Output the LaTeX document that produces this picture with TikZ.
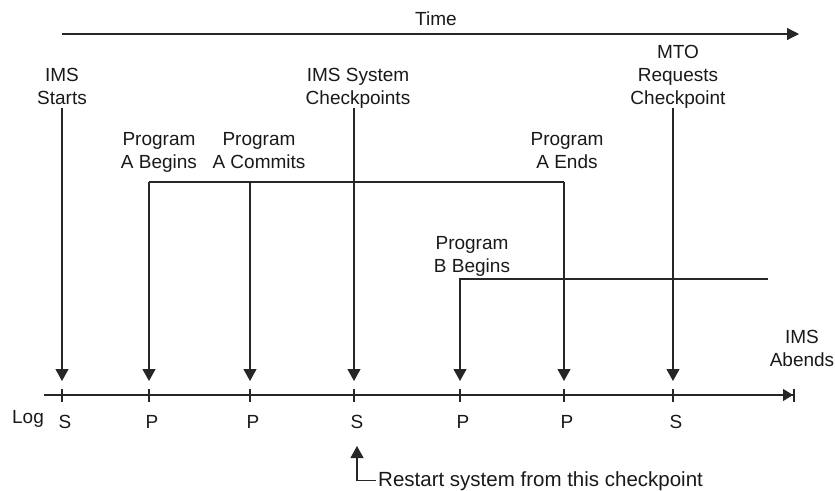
\documentclass[tikz,border=0pt]{standalone}
\usepackage{fontspec}
\setmainfont{Liberation Sans}
\usetikzlibrary{positioning,arrows.meta}

\begin{document}
\begin{tikzpicture}
[x=1pt, y=-1pt,
 lbl/.style={align=center, inner sep=0pt, text depth=3pt, text=black!90,
   font=\fontsize{19}{23}\selectfont},
 line/.style={line width=1.1pt, draw=black!85},
 evt/.style={line, -{Triangle[width=13pt,length=12pt]}}]
\useasboundingbox (0,0) rectangle (835,490);

% time axis
\coordinate (tstart) at (62,34);
\coordinate (tend) at (799,34);
\draw[line, -{Triangle[width=12pt,length=12pt]}] (tstart) -- (tend);
\node[lbl, anchor=base] (time) at (436,25) {Time};

% log with ticks
\coordinate (logstart) at (44,395);
\coordinate (logend) at (795,395);
\draw[line, -{Triangle[width=12pt,length=10pt] Bar[width=13pt,line width=2pt]}] (logstart) -- (logend);
\node[lbl, anchor=base] (log) at (28,423) {Log};
\foreach \x/\l [count=\i] in {62/S,149/P,250/P,354/S,460/P,564/P,673/S} {
  \coordinate (t\i) at (\x,395);
  \coordinate (e\i) at (\x,381);
  \draw[line] (t\i) ++(0,-6) -- ++(0,13);
  \node[lbl, anchor=base] (l\i) at (\x+3,428) {\l};
}

% events
\node[lbl, anchor=south] (ims) at (62,108) {IMS\\Starts};
\node[lbl, anchor=south] (chkpt) at (358,108) {IMS System\\Checkpoints};
\node[lbl, anchor=south] (mto) at (678,108) {MTO\\Requests\\Checkpoint};
\node[lbl, anchor=south] (abeg) at (159,172) {Program\\A Begins};
\node[lbl, anchor=south] (acom) at (259,172) {Program\\A Commits};
\node[lbl, anchor=south] (aend) at (567,172) {Program\\A Ends};
\node[lbl, anchor=south] (bbeg) at (472,276) {Program\\B Begins};
\node[lbl, anchor=south] (abend) at (802,370) {IMS\\Abends};

\draw[evt] (ims.south -| t1) -- (e1);
\draw[evt] (chkpt.south -| t4) -- (e4);
\draw[evt] (mto.south -| t7) -- (e7);

% program A
\coordinate (abar1) at (149,182);
\coordinate (abar2) at (564,182);
\draw[line] (abar1) -- (abar2);
\draw[evt] (abar1) -- (e2);
\draw[evt] (abar1 -| t3) -- (e3);
\draw[evt] (abar2) -- (e6);

% program B
\coordinate (bbar1) at (460,279);
\coordinate (bbar2) at (768,279);
\draw[evt] (bbar2) -- (bbar1) -- (e5);

% restart
\coordinate (rtip) at (357,446);
\node[lbl, anchor=base west, inner sep=2pt, font=\fontsize{20.5}{23}\selectfont]
  (restart) at (376,486) {Restart system from this checkpoint};
\draw[line, {Triangle[width=13pt,length=12pt]}-] (rtip) |- (restart.west);
\end{tikzpicture}
\end{document}
